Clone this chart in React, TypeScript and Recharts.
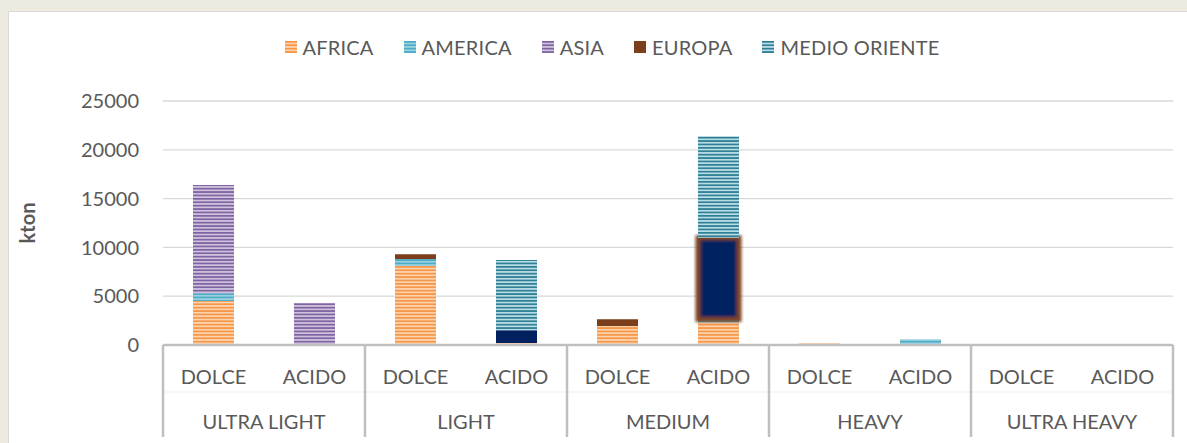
import { BarChart, Bar, XAxis, YAxis, CartesianGrid, Legend, Cell } from "recharts";

const groups = ["ULTRA LIGHT", "LIGHT", "MEDIUM", "HEAVY", "ULTRA HEAVY"];
const types = ["DOLCE", "ACIDO"];
const seriesNames = ["AFRICA", "AMERICA", "ASIA", "EUROPA", "MEDIO ORIENTE"];

// kton, one value per group/type pair (ULTRA LIGHT DOLCE, ULTRA LIGHT ACIDO, LIGHT DOLCE, ...)
const africa = [4500, 0, 8100, 200, 1950, 2300, 200, 0, 0, 100];
const america = [800, 100, 700, 0, 0, 300, 0, 600, 0, 0];
const asia = [11100, 4200, 0, 0, 0, 0, 0, 0, 0, 0];
const europa = [0, 0, 500, 1300, 700, 8400, 0, 0, 0, 0];
const medioOriente = [0, 0, 0, 7200, 0, 10400, 0, 0, 0, 0];

const yTicks = [0, 5000, 10000, 15000, 20000, 25000];

const values = [africa, america, asia, europa, medioOriente];

const data = groups.flatMap((grupo, gi) =>
  types.map((tipo, ti) => {
    const i = gi * 2 + ti;
    const row: Record<string, any> = { grupo, tipo };
    seriesNames.forEach((n, si) => {
      row[n] = values[si][i];
    });
    return row;
  })
);

const FONT = "Lato, 'Open Sans', sans-serif";
const TEXT = "#595959";
const W = 1179;
const H = 432;
const LEFT = 155;
const RIGHT = 14;
const PLOT_BOTTOM = 334;
const SLOT = (W - LEFT - RIGHT) / data.length;

const stripes: Record<string, { id: string; dark: string; light: string }> = {
  AFRICA: { id: "pAfrica", dark: "#F79646", light: "#FCD3AF" },
  AMERICA: { id: "pAmerica", dark: "#4BACC6", light: "#9CD1E0" },
  ASIA: { id: "pAsia", dark: "#8064A2", light: "#CDC1DD" },
  EUROPA: { id: "pEuropa", dark: "#7A3E1B", light: "#7A3E1B" },
  "MEDIO ORIENTE": { id: "pMedio", dark: "#2F7F95", light: "#B9DCE6" },
};

// europa segments look different on the acid bars of LIGHT / MEDIUM
const europaLook = ["plain", "plain", "plain", "navy", "plain", "glow", "plain", "plain", "plain", "plain"];

const europaCell = (look: string, i: number) => {
  if (look === "navy") return <Cell key={i} fill="#002060" />;
  if (look === "glow")
    return <Cell key={i} fill="#002060" stroke="#7E4420" strokeWidth={5} filter="url(#softEdge)" />;
  return <Cell key={i} fill="url(#pEuropa)" />;
};

const TypeTick = ({ x, payload }: any) => (
  <text
    x={x}
    y={PLOT_BOTTOM + 31}
    textAnchor="middle"
    dominantBaseline="central"
    fontFamily={FONT}
    fontSize={20}
    fill={TEXT}
  >
    {payload.value}
  </text>
);

const GroupTick = ({ x, payload, index }: any) => {
  const left = x - SLOT / 2;
  return (
    <g>
      <line x1={left} x2={left + SLOT} y1={PLOT_BOTTOM + 47} y2={PLOT_BOTTOM + 47} stroke="#EFEFEF" strokeWidth={1} />
      {index % 2 === 0 && (
        <line x1={left} x2={left} y1={PLOT_BOTTOM} y2={PLOT_BOTTOM + 92} stroke="#BFBFBF" strokeWidth={2.5} />
      )}
      {index === data.length - 1 && (
        <line x1={x + SLOT / 2} x2={x + SLOT / 2} y1={PLOT_BOTTOM} y2={PLOT_BOTTOM + 92} stroke="#BFBFBF" strokeWidth={2.5} />
      )}
      {index % 2 === 1 && (
        <text
          x={left}
          y={PLOT_BOTTOM + 76}
          textAnchor="middle"
          dominantBaseline="central"
          fontFamily={FONT}
          fontSize={20}
          fill={TEXT}
        >
          {payload.value}
        </text>
      )}
    </g>
  );
};

const renderLegend = () => (
  <div
    style={{
      display: "flex",
      alignItems: "center",
      height: 30,
      paddingLeft: 277,
      fontFamily: FONT,
      fontSize: 20,
      color: TEXT,
    }}
  >
    {seriesNames.map((n) => (
      <div key={n} style={{ display: "flex", alignItems: "center", marginRight: 30 }}>
        <svg width={12} height={12} style={{ display: "block" }}>
          <rect width={12} height={12} fill={`url(#${stripes[n].id})`} />
        </svg>
        <span style={{ marginLeft: 6, letterSpacing: 0.2 }}>{n}</span>
      </div>
    ))}
  </div>
);

export default function App() {
  return (
    <div style={{ position: "absolute", left: 0, top: 0, width: 1187, height: 443, background: "#EDEAE0" }}>
      <div
        style={{
          position: "absolute",
          left: 8,
          top: 11,
          width: W,
          height: H,
          background: "#FFFFFF",
          borderLeft: "1.5px solid #D9D9D9",
          borderTop: "1.5px solid #D9D9D9",
          boxSizing: "border-box",
        }}
      >
        <BarChart
          width={W}
          height={H}
          data={data}
          margin={{ top: 60, right: RIGHT, bottom: 0, left: 0 }}
          barSize={41}
          style={{ position: "absolute", left: -1.5, top: -1.5 }}
        >
          <defs>
            {seriesNames.map((n) => (
              <pattern key={n} id={stripes[n].id} patternUnits="userSpaceOnUse" width={8} height={3.4}>
                <rect width={8} height={3.4} fill={stripes[n].light} />
                <rect width={8} height={1.7} fill={stripes[n].dark} />
              </pattern>
            ))}
            <filter id="softEdge" x="-10%" y="-5%" width="120%" height="110%">
              <feGaussianBlur stdDeviation={1.6} />
            </filter>
          </defs>
          <CartesianGrid vertical={false} stroke="#D9D9D9" strokeWidth={1.3} />
          <XAxis
            dataKey="tipo"
            interval={0}
            height={46}
            tickLine={false}
            axisLine={{ stroke: "#BFBFBF", strokeWidth: 2.5 }}
            tick={<TypeTick />}
          />
          <XAxis
            dataKey="grupo"
            xAxisId="grp"
            interval={0}
            height={52}
            tickLine={false}
            axisLine={false}
            tick={<GroupTick />}
          />
          <YAxis
            width={LEFT}
            domain={[0, 25000]}
            ticks={yTicks}
            axisLine={false}
            tickLine={false}
            tickMargin={18}
            tick={{ fontFamily: FONT, fontSize: 20, fill: TEXT }}
            label={{
              value: "kton",
              angle: -90,
              position: "insideLeft",
              offset: 20,
              style: { fontFamily: FONT, fontSize: 20, fontWeight: 700, fill: TEXT, textAnchor: "middle" },
            }}
          />
          <Legend verticalAlign="top" content={renderLegend} wrapperStyle={{ top: 21, left: 0, width: W }} />
          {seriesNames.map((n) => (
            <Bar key={n} dataKey={n} stackId="a" fill={`url(#${stripes[n].id})`} isAnimationActive={false}>
              {n === "EUROPA" && europaLook.map((look, i) => europaCell(look, i))}
            </Bar>
          ))}
        </BarChart>
      </div>
    </div>
  );
}
